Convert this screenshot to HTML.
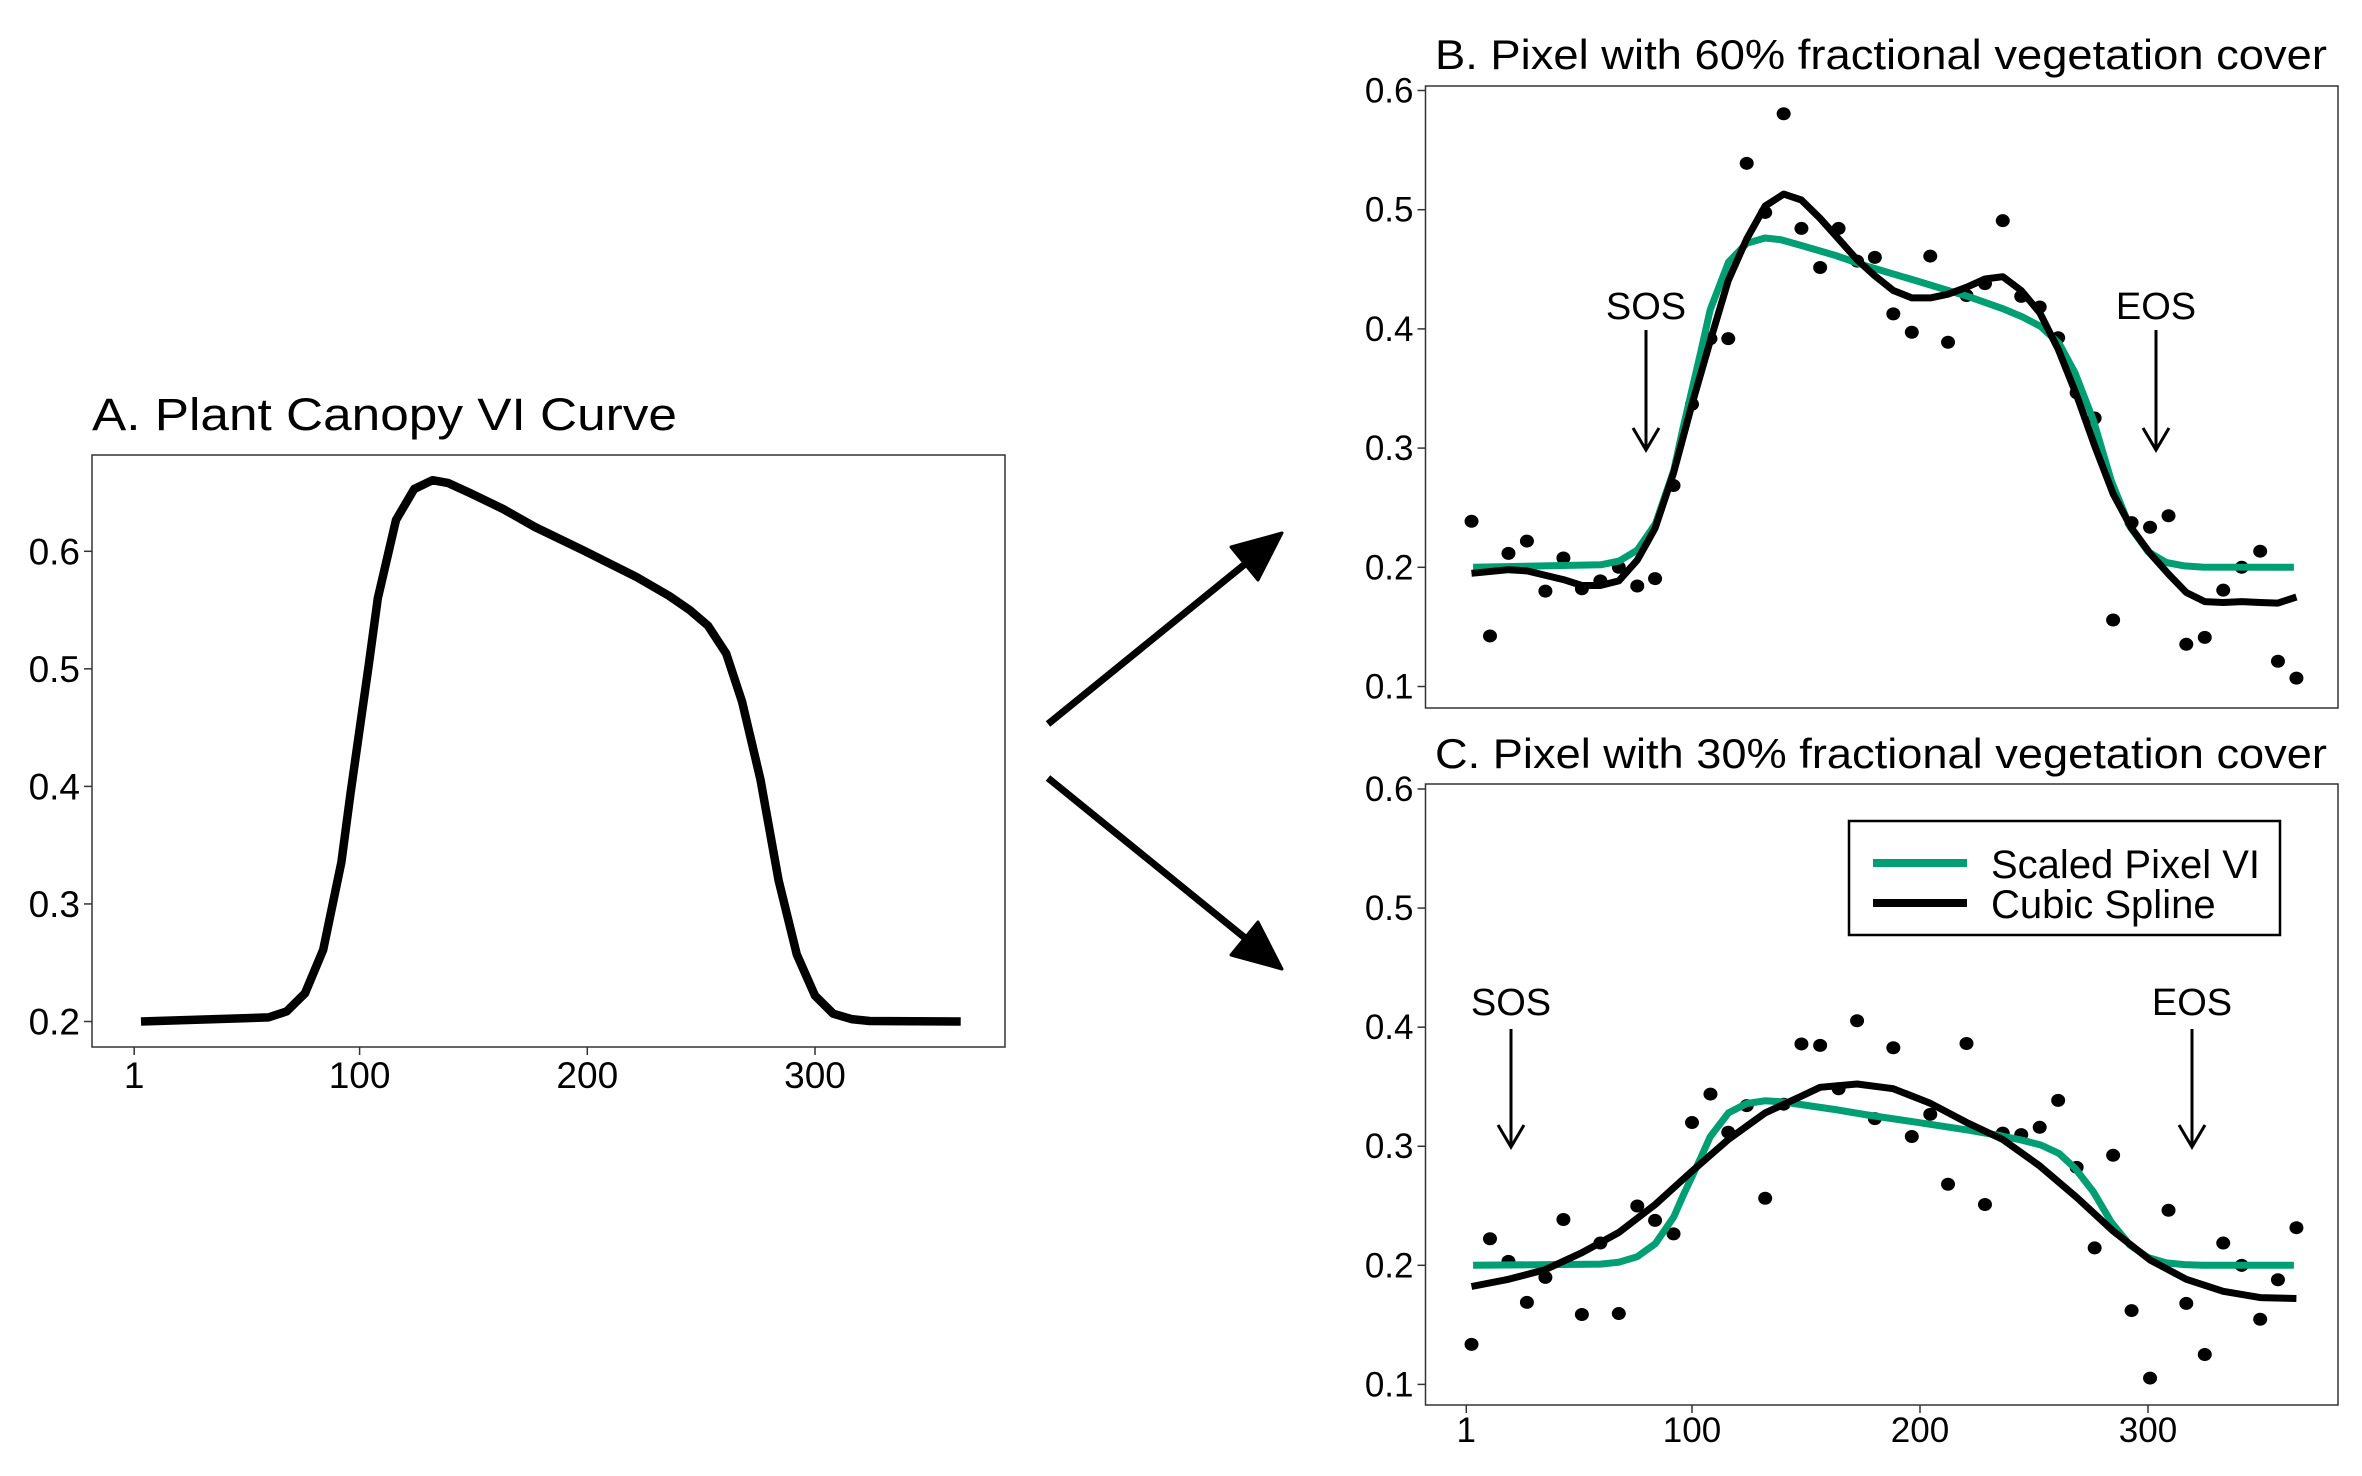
<!DOCTYPE html>
<html><head><meta charset="utf-8"><style>
html,body{margin:0;padding:0;background:#fff}
svg{display:block}
text{font-family:"Liberation Sans",sans-serif;fill:#000}
</style></head><body>
<svg id="fig" width="2362" height="1476" viewBox="0 0 2362 1476" xmlns="http://www.w3.org/2000/svg">
<g id="pa"></g>
<g id="pb"></g>
<g id="pc"></g>
<g>
<line x1="1048" y1="724" x2="1250" y2="560" stroke="#000" stroke-width="7"/>
<polygon points="1282,533 1231,547 1258,580" fill="#000" stroke="#000" stroke-width="3" stroke-linejoin="round"/>
<line x1="1048" y1="778" x2="1250" y2="942" stroke="#000" stroke-width="7"/>
<polygon points="1282,969 1231,955 1258,922" fill="#000" stroke="#000" stroke-width="3" stroke-linejoin="round"/>
</g>
</svg>
<script>
// ---- Panel A data ----
const aDays = [4,60,68,76,84,92,96,104,108,116,124,132,139,148,163,177,198,222,236,245,253,261,268,276,284,292,300,308,316,324,364];
const aVals = [0.2,0.2035,0.2086,0.224,0.261,0.3356,0.394,0.503,0.56,0.6266,0.653,0.6605,0.658,0.65,0.636,0.6207,0.601,0.5777,0.562,0.55,0.5367,0.513,0.472,0.406,0.32,0.257,0.222,0.2066,0.202,0.2004,0.2];
const aYTicks = [0.2,0.3,0.4,0.5,0.6];
const xTicks = [1,100,200,300];
// ---- Panel B data ----
const bPtDays = [3.3,11.4,19.5,27.6,35.7,43.6,51.7,59.8,67.9,76,83.8,91.9,100,108.1,115.9,124,132.1,140.2,148,156.2,164.3,172.4,180.2,188.3,196.4,204.5,212.3,220.4,228.5,236.3,244.4,252.5,260.6,268.7,276.6,284.7,292.8,300.9,309,316.8,324.9,333,341.1,349.2,357,365.1];
const bPtVals = [0.2386,0.1424,0.2117,0.222,0.18,0.2078,0.182,0.1886,0.2,0.1843,0.1905,0.2686,0.3368,0.3918,0.3918,0.5389,0.4977,0.5805,0.4843,0.4515,0.4843,0.4569,0.46,0.4126,0.3972,0.4611,0.3888,0.428,0.438,0.4908,0.4273,0.4184,0.3926,0.3464,0.3252,0.1558,0.2375,0.2336,0.2432,0.1354,0.1412,0.1808,0.2,0.2135,0.1212,0.107];
const bGreenVals = [0.2,0.2021,0.2052,0.2144,0.2366,0.2814,0.3164,0.3818,0.416,0.456,0.4718,0.4763,0.4748,0.47,0.4616,0.4524,0.4406,0.4266,0.4172,0.41,0.402,0.3878,0.3632,0.3236,0.272,0.2342,0.2132,0.204,0.2012,0.2002,0.2];
const bSplDays = [3.3,19.5,27.6,43.6,51.7,59.8,67.9,76,83.8,91.9,100,108.1,115.9,124,132.1,140.2,148,156.2,164.3,172.4,180.2,188.3,196.4,204.5,212.3,220.4,228.5,236.3,244.4,252.5,260.6,268.7,276.6,284.7,292.8,300.9,309,316.8,324.9,333,341.1,349.2,357,365.1];
const bSplVals = [0.195,0.198,0.197,0.1897,0.1847,0.1847,0.1886,0.206,0.2328,0.279,0.3368,0.3907,0.4407,0.4754,0.5031,0.5131,0.5081,0.4927,0.4754,0.458,0.4445,0.4322,0.426,0.426,0.4291,0.4349,0.4419,0.4438,0.4322,0.4137,0.383,0.3445,0.3021,0.2617,0.2328,0.2117,0.1943,0.1789,0.1712,0.1705,0.1712,0.1705,0.17,0.1751];
// ---- Panel C data ----
const cPtVals = [0.1336,0.2223,0.2033,0.1689,0.1899,0.2385,0.1587,0.2187,0.1595,0.2498,0.2377,0.2264,0.3199,0.3438,0.3118,0.3341,0.2563,0.3353,0.3859,0.3847,0.3483,0.4054,0.3232,0.3827,0.3082,0.3268,0.2681,0.3863,0.2511,0.311,0.3098,0.3159,0.3385,0.2823,0.2146,0.2924,0.162,0.1053,0.2462,0.168,0.1251,0.2187,0.2,0.1547,0.1879,0.2316];
const cGreenVals = [0.2,0.201,0.2026,0.2072,0.2183,0.2407,0.2582,0.2909,0.308,0.328,0.3359,0.3382,0.3374,0.335,0.3308,0.3262,0.3203,0.3133,0.3086,0.305,0.301,0.2939,0.2816,0.2618,0.236,0.2171,0.2066,0.202,0.2006,0.2001,0.2];
const cSplDays = [3.3,19.5,35.7,51.7,67.9,83.8,100,115.9,132.1,148,156.2,172.4,188.3,204.5,220.4,236.3,252.5,268.7,284.7,300.9,316.8,333,349.2,365.1];
const cSplVals = [0.1822,0.1883,0.1964,0.2106,0.2276,0.251,0.279,0.3057,0.328,0.342,0.3495,0.3523,0.3483,0.3361,0.32,0.3057,0.2835,0.2571,0.2288,0.2045,0.1883,0.1782,0.1729,0.1721];
const bcYTicks = [0.1,0.2,0.3,0.4,0.5,0.6];

const NS='http://www.w3.org/2000/svg';
function mk(parent,tag,attrs,txt){const e=document.createElementNS(NS,tag);for(const k in attrs)e.setAttribute(k,attrs[k]);if(txt!==undefined)e.textContent=txt;parent.appendChild(e);return e;}
function lineStr(days,vals,sx,sy){return days.map((d,i)=>sx(d).toFixed(1)+','+sy(vals[i]).toFixed(1)).join(' ');}

// Panel A
(function(){
  const g=document.getElementById('pa');
  const sx=d=>359.6+(d-100)*2.277, sy=v=>1021.5-(v-0.2)*1175.5;
  let t=mk(g,'text',{x:92,y:430,'font-size':45,textLength:585,lengthAdjust:'spacingAndGlyphs'},'A. Plant Canopy VI Curve');
  
  
  let r=mk(g,'rect',{x:92,y:455,width:913,height:592,fill:'none',stroke:'#333','stroke-width':1.5});
  
  
  aYTicks.forEach(v=>{
    const l=mk(g,'line',{x1:84,x2:92,y1:sy(v),y2:sy(v),stroke:'#333','stroke-width':1.5});
    
    
    const tt=mk(g,'text',{x:80,y:sy(v)+13,'font-size':37,'text-anchor':'end'},v.toFixed(1));
    
    
  });
  xTicks.forEach(d=>{
    const l=mk(g,'line',{x1:sx(d),x2:sx(d),y1:1047,y2:1055,stroke:'#333','stroke-width':1.5});
    
    
    const tt=mk(g,'text',{x:sx(d),y:1088,'font-size':37,'text-anchor':'middle'},String(d));
    
    
  });
  const p=mk(g,'polyline',{points:lineStr(aDays,aVals,sx,sy),fill:'none',stroke:'#000','stroke-width':8.5,'stroke-linejoin':'round'});
  
  
})();

function sosEos(g,x,yText,y1,y2,label){
  const t=mk(g,'text',{x:x,y:yText,'font-size':38,'text-anchor':'middle'},label);
  
  
  const l=mk(g,'path',{d:`M${x},${y1} L${x},${y2} M${x-13},${y2-22} L${x},${y2} L${x+13},${y2-22}`,fill:'none',stroke:'#000','stroke-width':3});
  
  
}

function panel(id,top,bottom,y01,y06,title,titleY,pts,pDays,green,spl,sDays,showX){
  const g=document.getElementById(id);
  const L=1425.5,R=2338;
  const sx=d=>1692+(d-100)*2.28, sy=v=>y01-(v-0.1)*(y01-y06)/0.5;
  const t=mk(g,'text',{x:1435,y:titleY,'font-size':42,textLength:892,lengthAdjust:'spacingAndGlyphs'},title);
  
  
  const r=mk(g,'rect',{x:L,y:top,width:R-L,height:bottom-top,fill:'none',stroke:'#333','stroke-width':1.5});
  
  
  bcYTicks.forEach(v=>{
    const l=mk(g,'line',{x1:L-8,x2:L,y1:sy(v),y2:sy(v),stroke:'#333','stroke-width':1.5});
    
    
    const tt=mk(g,'text',{x:L-12,y:sy(v)+12,'font-size':35,'text-anchor':'end'},v.toFixed(1));
    
    
  });
  if(showX){xTicks.forEach(d=>{
    const l=mk(g,'line',{x1:sx(d),x2:sx(d),y1:bottom,y2:bottom+8,stroke:'#333','stroke-width':1.5});
    
    
    const tt=mk(g,'text',{x:sx(d),y:bottom+37,'font-size':35,'text-anchor':'middle'},String(d));
    
    
  });}
  pDays.forEach((d,i)=>{
    const c=mk(g,'ellipse',{cx:sx(d),cy:sy(pts[i]),rx:7,ry:6.5,fill:'#000'});
    
    
  });
  const gp=mk(g,'polyline',{points:lineStr(aDays,green,sx,sy),fill:'none',stroke:'#009E73','stroke-width':7,'stroke-linejoin':'round'});
  
  
  const bp=mk(g,'polyline',{points:lineStr(sDays,spl,sx,sy),fill:'none',stroke:'#000','stroke-width':7,'stroke-linejoin':'round'});
  
  
  return g;
}
const gb=panel('pb',86,708,686.5,90.5,'B. Pixel with 60% fractional vegetation cover',69,bPtVals,bPtDays,bGreenVals,bSplVals,bSplDays,false);
sosEos(gb,1646,319,330,450,'SOS');
sosEos(gb,2156,319,330,450,'EOS');
const gc=panel('pc',784,1405,1384.4,789,'C. Pixel with 30% fractional vegetation cover',768,cPtVals,bPtDays,cGreenVals,cSplVals,cSplDays,true);
sosEos(gc,1511,1015,1029,1147,'SOS');
sosEos(gc,2192,1015,1029,1147,'EOS');
// legend
const lg=mk(gc,'g',{});


const lr=mk(lg,'rect',{x:1849,y:821,width:431,height:114,fill:'#fff',stroke:'#000','stroke-width':2.5});


const l1=mk(lg,'line',{x1:1873,x2:1967,y1:863,y2:863,stroke:'#009E73','stroke-width':8});


const t1=mk(lg,'text',{x:1991,y:878,'font-size':40},'Scaled Pixel VI');


const l2=mk(lg,'line',{x1:1873,x2:1967,y1:903,y2:903,stroke:'#000','stroke-width':8});


const t2=mk(lg,'text',{x:1991,y:918,'font-size':40},'Cubic Spline');


</script>
</body></html>
